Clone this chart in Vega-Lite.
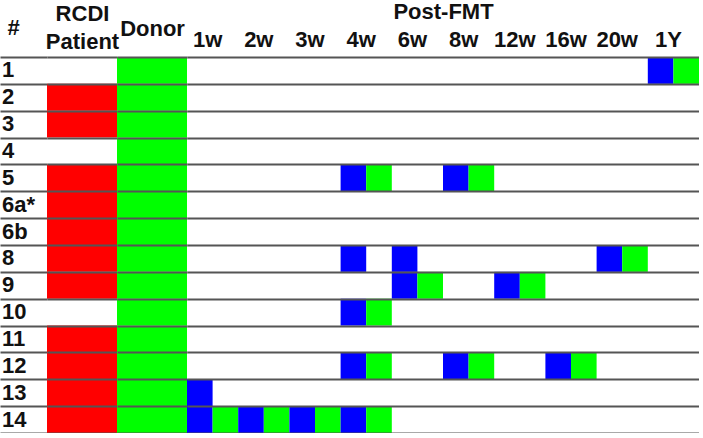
{
  "$schema": "https://vega.github.io/schema/vega-lite/v6.json",
  "padding": {"top": 0, "left": 0, "right": 0, "bottom": 0},
  "spacing": 0,
  "bounds": "flush",
  "config": {
    "view": {"stroke": null},
    "font": "Liberation Sans",
    "concat": {"spacing": 0},
    "axis": {
      "labelFont": "Liberation Sans",
      "titleFont": "Liberation Sans",
      "labelFontWeight": "bold",
      "titleFontWeight": "bold",
      "labelFontSize": 22,
      "titleFontSize": 22,
      "labelColor": "#111",
      "titleColor": "#111"
    }
  },
  "datasets": {
    "rows": [
      {"row": "1"}, {"row": "2"}, {"row": "3"}, {"row": "4"}, {"row": "5"}, {"row": "6a*"}, {"row": "6b"},
      {"row": "8"}, {"row": "9"}, {"row": "10"}, {"row": "11"}, {"row": "12"}, {"row": "13"}, {"row": "14"}
    ],
    "patient": [
      {"row": "2"}, {"row": "3"}, {"row": "5"}, {"row": "6a*"}, {"row": "6b"}, {"row": "8"}, {"row": "9"},
      {"row": "11"}, {"row": "12"}, {"row": "13"}, {"row": "14"}
    ],
    "samples": [
      {"row": "1", "tp": "1Y", "sub": "1"}, {"row": "1", "tp": "1Y", "sub": "2"},
      {"row": "5", "tp": "4w", "sub": "1"}, {"row": "5", "tp": "4w", "sub": "2"},
      {"row": "5", "tp": "8w", "sub": "1"}, {"row": "5", "tp": "8w", "sub": "2"},
      {"row": "8", "tp": "4w", "sub": "1"}, {"row": "8", "tp": "6w", "sub": "1"},
      {"row": "8", "tp": "20w", "sub": "1"}, {"row": "8", "tp": "20w", "sub": "2"},
      {"row": "9", "tp": "6w", "sub": "1"}, {"row": "9", "tp": "6w", "sub": "2"},
      {"row": "9", "tp": "12w", "sub": "1"}, {"row": "9", "tp": "12w", "sub": "2"},
      {"row": "10", "tp": "4w", "sub": "1"}, {"row": "10", "tp": "4w", "sub": "2"},
      {"row": "12", "tp": "4w", "sub": "1"}, {"row": "12", "tp": "4w", "sub": "2"},
      {"row": "12", "tp": "8w", "sub": "1"}, {"row": "12", "tp": "8w", "sub": "2"},
      {"row": "12", "tp": "16w", "sub": "1"}, {"row": "12", "tp": "16w", "sub": "2"},
      {"row": "13", "tp": "1w", "sub": "1"},
      {"row": "14", "tp": "1w", "sub": "1"}, {"row": "14", "tp": "1w", "sub": "2"},
      {"row": "14", "tp": "2w", "sub": "1"}, {"row": "14", "tp": "2w", "sub": "2"},
      {"row": "14", "tp": "3w", "sub": "1"}, {"row": "14", "tp": "3w", "sub": "2"},
      {"row": "14", "tp": "4w", "sub": "1"}, {"row": "14", "tp": "4w", "sub": "2"}
    ]
  },
  "hconcat": [
    {
      "width": 47,
      "height": 376,
      "data": {"name": "rows"},
      "mark": {"type": "text", "align": "left", "baseline": "middle", "dx": 2, "fontSize": 22, "fontWeight": "bold", "font": "Liberation Sans", "color": "#111"},
      "encoding": {
        "x": {"datum": 0, "type": "quantitative", "scale": {"domain": [0, 1]},
          "axis": {"orient": "top", "title": "#", "labels": false, "ticks": false, "domain": false, "grid": false,
            "titleAnchor": "start", "titleAlign": "left", "titleX": 7, "titlePadding": 18}},
        "y": {"field": "row", "type": "nominal", "sort": null,
          "scale": {"domain": ["1","2","3","4","5","6a*","6b","8","9","10","11","12","13","14"], "paddingInner": 0, "paddingOuter": 0},
          "axis": {"title": null, "labels": false, "ticks": false, "domain": false, "grid": true, "tickBand": "extent",
            "gridColor": "#555555", "gridWidth": 2, "gridOpacity": 1, "zindex": 1}},
        "text": {"field": "row"}
      }
    },
    {
      "width": 70,
      "height": 376,
      "data": {"name": "patient"},
      "mark": {"type": "rect", "color": "#ff0000"},
      "encoding": {
        "x": {"datum": "RCDI Patient", "type": "nominal", "scale": {"domain": ["RCDI Patient"], "paddingInner": 0, "paddingOuter": 0},
          "axis": {"orient": "top", "title": ["RCDI", "Patient"], "titleLineHeight": 28, "labels": false, "ticks": false, "domain": false, "grid": false,
            "titlePadding": 4, "titleDx": -6}},
        "y": {"field": "row", "type": "nominal", "sort": null,
          "scale": {"domain": ["1","2","3","4","5","6a*","6b","8","9","10","11","12","13","14"], "paddingInner": 0, "paddingOuter": 0},
          "axis": {"title": null, "labels": false, "ticks": false, "domain": false, "grid": true, "tickBand": "extent",
            "gridColor": "#555555", "gridWidth": 2, "gridOpacity": 1, "zindex": 1}}
      }
    },
    {
      "width": 70,
      "height": 376,
      "data": {"name": "rows"},
      "mark": {"type": "rect", "color": "#00ff00"},
      "encoding": {
        "x": {"datum": "Donor", "type": "nominal", "scale": {"domain": ["Donor"], "paddingInner": 0, "paddingOuter": 0},
          "axis": {"orient": "top", "title": "Donor", "labels": false, "ticks": false, "domain": false, "grid": false,
            "titlePadding": 17}},
        "y": {"field": "row", "type": "nominal", "sort": null,
          "scale": {"domain": ["1","2","3","4","5","6a*","6b","8","9","10","11","12","13","14"], "paddingInner": 0, "paddingOuter": 0},
          "axis": {"title": null, "labels": false, "ticks": false, "domain": false, "grid": true, "tickBand": "extent",
            "gridColor": "#555555", "gridWidth": 2, "gridOpacity": 1, "zindex": 1}}
      }
    },
    {
      "width": 512,
      "height": 376,
      "data": {"name": "samples"},
      "mark": {"type": "rect"},
      "encoding": {
        "x": {"field": "tp", "type": "nominal",
          "scale": {"domain": ["1w","2w","3w","4w","6w","8w","12w","16w","20w","1Y"], "paddingInner": 0, "paddingOuter": 0},
          "axis": {"orient": "top", "title": "Post-FMT", "labelAngle": 0, "labelPadding": 6, "labelOffset": -5, "ticks": false, "domain": false, "grid": false,
            "titlePadding": 5}},
        "xOffset": {"field": "sub", "type": "nominal", "scale": {"domain": ["1", "2"], "paddingInner": 0, "paddingOuter": 0}},
        "y": {"field": "row", "type": "nominal", "sort": null,
          "scale": {"domain": ["1","2","3","4","5","6a*","6b","8","9","10","11","12","13","14"], "paddingInner": 0, "paddingOuter": 0},
          "axis": {"title": null, "labels": false, "ticks": false, "domain": false, "grid": true, "tickBand": "extent",
            "gridColor": "#555555", "gridWidth": 2, "gridOpacity": 1, "zindex": 1}},
        "color": {"field": "sub", "type": "nominal", "scale": {"domain": ["1", "2"], "range": ["#0000ff", "#00ff00"]}, "legend": null}
      }
    }
  ]
}
